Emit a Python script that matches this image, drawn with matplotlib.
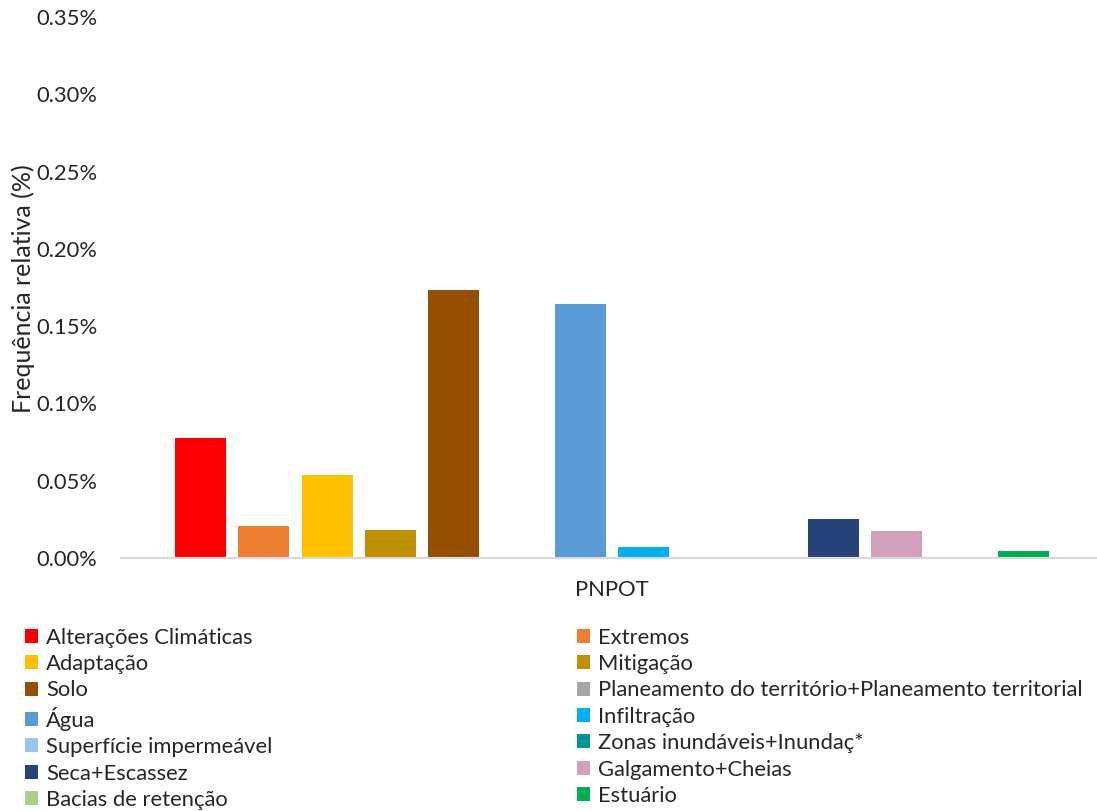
import matplotlib
matplotlib.use("Agg")
import matplotlib.pyplot as plt
from matplotlib.patches import Patch

categories = [
    "Alterações Climáticas", "Extremos", "Adaptação", "Mitigação", "Solo",
    "Planeamento do território+Planeamento territorial", "Água", "Infiltração",
    "Superfície impermeável", "Zonas inundáveis+Inundaç*", "Seca+Escassez",
    "Galgamento+Cheias", "Bacias de retenção", "Estuário",
]
values = [0.0775, 0.0205, 0.0535, 0.018, 0.1735, 0.0, 0.1645, 0.007,
          0.0, 0.0, 0.0255, 0.0175, 0.0, 0.0045]
colors = ["#FF0000", "#ED7D31", "#FFC000", "#BF9000", "#964F00", "#A5A5A5",
          "#5B9BD5", "#00B0F0", "#9DC3E6", "#00968F", "#264478", "#D29FBC",
          "#A9D18E", "#00B050"]
group_label = "PNPOT"
y_ticks = [0.0, 0.05, 0.10, 0.15, 0.20, 0.25, 0.30, 0.35]

plt.rcParams["font.family"] = ["Lato", "DejaVu Sans"]
plt.rcParams["font.size"] = 15.8

fig = plt.figure(figsize=(10.97, 8.11), dpi=100)
ax = fig.add_axes([0.1103, 0.312, 0.8897, 0.667])

for ind in range(len(categories)):
    ax.bar(ind, values[ind], width=0.806, color=colors[ind], label=categories[ind])

ax.set_xlim(-1.256, 14.16)
ax.set_ylim(0, 0.35)
ax.set_yticks(y_ticks)
ax.set_yticklabels(["{:.2f}%".format(v) for v in y_ticks])
ax.set_xticks([6.5])
ax.set_xticklabels([group_label])
ax.tick_params(axis="y", length=0, pad=17, labelcolor="#262626")
ax.tick_params(axis="x", length=0, pad=16, labelcolor="#262626")

for side in ["top", "right", "left"]:
    ax.spines[side].set_visible(False)
ax.spines["bottom"].set_color("#D9D9D9")
ax.spines["bottom"].set_linewidth(1.5)

ax.set_ylabel("Frequência relativa (%)", color="#262626", fontsize=18)
ax.yaxis.set_label_coords(-0.088, 0.498)

handles = [Patch(facecolor=c) for c in colors]
leg_style = dict(loc="upper left", frameon=False, borderpad=0, borderaxespad=0,
                 handlelength=0.6, handleheight=0.6, handletextpad=0.35,
                 labelspacing=0.29, fontsize=15.8, labelcolor="#262626")
fig.legend(handles[0::2], categories[0::2], bbox_to_anchor=(0.0228, 0.226), **leg_style)
fig.legend(handles[1::2], categories[1::2], bbox_to_anchor=(0.526, 0.226), **leg_style)

plt.savefig("out.png", dpi=100)
